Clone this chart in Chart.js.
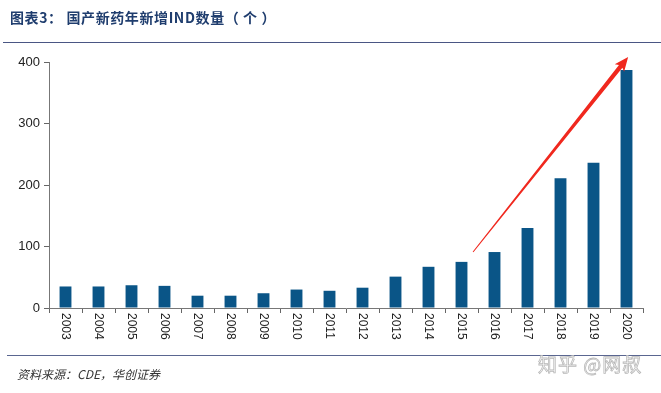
<!DOCTYPE html>
<html>
<head>
<meta charset="utf-8">
<script src="https://cdn.jsdelivr.net/npm/chart.js@4"></script>
<style>
  body { margin: 0; background: #fff; width: 661px; height: 393px; overflow: hidden; position: relative; font-family: "Noto Sans CJK SC", sans-serif; }
  #wrap { position: absolute; left: 0; top: 0; width: 661px; height: 393px; }
  #title { position: absolute; left: 10px; top: 7px; font-size: 14px; font-weight: bold; color: #1f3d6e; letter-spacing: 0.6px; }
  #topline { position: absolute; left: 3px; top: 42px; width: 658px; height: 1px; background: #4a5684; }
  #botline { position: absolute; left: 7px; top: 355px; width: 654px; height: 1px; background: #5a6690; }
  #source { position: absolute; left: 17px; top: 365px; font-size: 12px; font-style: italic; color: #333; }
  #mark { position: absolute; left: 538px; top: 350px; font-size: 19px; color: #fff; -webkit-text-stroke: 0.8px #b8b8b8; letter-spacing: 1px; }
</style>
</head>
<body>
<div id="wrap"><canvas id="myChart" width="661" height="393"></canvas></div>
<div id="title">图表3： 国产新药年新增IND数量（ 个 ）</div>
<div id="topline"></div>
<div id="botline"></div>
<div id="source">资料来源：CDE，华创证券</div>
<div id="mark">知乎 @网叔</div>
<script>
// 年份と新増IND数
var years = ["2003","2004","2005","2006","2007","2008","2009","2010","2011","2012",
             "2013","2014","2015","2016","2017","2018","2019","2020"];
var indCounts = [35, 35, 37, 36, 20, 20, 24, 30, 28, 33, 51, 67, 75, 91, 130, 211, 236, 387];
var yTicks = [0, 100, 200, 300, 400];

// 矢印（データ座標）：始点と終点
var arrowFrom = [12.35, 91];
var arrowTo = [17.05, 408];

// x軸ラベルを時計回り90度で描画
var verticalLabels = {
  id: 'verticalLabels',
  afterDraw: function(chart) {
    var ctx = chart.ctx;
    var x = chart.scales.x;
    ctx.save();
    ctx.font = '12px "Liberation Sans", Arial, sans-serif';
    ctx.fillStyle = '#222';
    ctx.textAlign = 'left';
    ctx.textBaseline = 'middle';
    for (var i = 0; i < years.length; i++) {
      ctx.save();
      ctx.translate(x.getPixelForTick(i), x.top + 5);
      ctx.rotate(Math.PI / 2);
      ctx.fillText(years[i], 0, 0);
      ctx.restore();
    }
    ctx.restore();
  }
};

// 赤い矢印
var redArrow = {
  id: 'redArrow',
  afterDatasetsDraw: function(chart) {
    var ctx = chart.ctx;
    var xs = chart.scales.x, ys = chart.scales.y;
    var x0 = xs.getPixelForValue(arrowFrom[0]), y0 = ys.getPixelForValue(arrowFrom[1]);
    var x1 = xs.getPixelForValue(arrowTo[0]), y1 = ys.getPixelForValue(arrowTo[1]);
    var ang = Math.atan2(y1 - y0, x1 - x0);
    var len = Math.hypot(x1 - x0, y1 - y0);
    ctx.save();
    ctx.translate(x0, y0);
    ctx.rotate(ang);
    ctx.fillStyle = '#f0281e';
    ctx.beginPath();
    ctx.moveTo(0, -0.5);
    ctx.lineTo(len - 12, -2.2);
    ctx.lineTo(len - 14, -6);
    ctx.lineTo(len, 0);
    ctx.lineTo(len - 14, 6);
    ctx.lineTo(len - 12, 2.2);
    ctx.lineTo(0, 0.5);
    ctx.closePath();
    ctx.fill();
    ctx.restore();
  }
};

var ctx = document.getElementById('myChart').getContext('2d');
var myChart = new Chart(ctx, {
  type: 'bar',
  data: {
    labels: years,
    datasets: [{
      data: indCounts,
      backgroundColor: '#0a5587',
      barPercentage: 0.36,
      categoryPercentage: 1.0
    }]
  },
  options: {
    responsive: false,
    animation: false,
    devicePixelRatio: 1,
    layout: { padding: { left: 0, top: 62, right: 18, bottom: 0 } },
    plugins: {
      legend: { display: false },
      tooltip: { enabled: false }
    },
    scales: {
      x: {
        afterFit: function(s) { s.height = 85; },
        grid: { display: true, drawOnChartArea: false, tickLength: 5, color: '#666', offset: true },
        border: { color: '#777' },
        ticks: { display: false }
      },
      y: {
        min: 0,
        max: 400,
        afterFit: function(s) { s.width = 49; },
        afterBuildTicks: function(s) { s.ticks = yTicks.map(function(v) { return { value: v }; }); },
        grid: { display: true, drawOnChartArea: false, tickLength: 5, color: '#666' },
        border: { color: '#777' },
        ticks: {
          font: { size: 13, family: '"Liberation Sans", Arial, sans-serif' },
          color: '#222',
          padding: 4
        }
      }
    }
  },
  plugins: [verticalLabels, redArrow]
});
</script>
</body>
</html>
